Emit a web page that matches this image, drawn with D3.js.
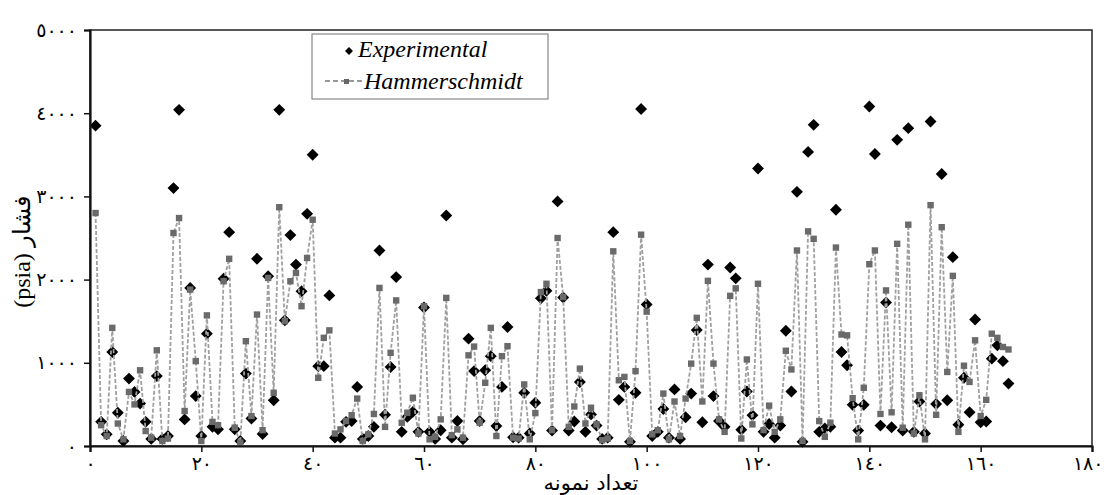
<!DOCTYPE html>
<html lang="fa">
<head>
    <meta charset="UTF-8">
    <title>Pressure chart</title>
    <script src="https://d3js.org/d3.v7.min.js"></script>
    <style>
        body { margin: 0; background: #fff; }
        text { font-family: "Liberation Serif", "DejaVu Serif", serif; }
        .fa { font-family: "DejaVu Sans", "Noto Sans", sans-serif; }
    </style>
</head>
<body>
    <div id="chart"></div>

    <script>
        // Measured pressures (psia), sample 1..165
        var experimental = [
            3850, 290, 140, 1130, 400, 60, 810, 650, 510, 290,
            85, 840, 85, 120, 3100, 4040, 320, 1900, 600, 120,
            1350, 230, 200, 2010, 2570, 200, 60, 870, 330, 2250,
            145, 2040, 550, 4040, 1510, 2535, 2180, 1860, 2790, 3500,
            960, 960, 1810, 100, 100, 290, 300, 710, 85, 120,
            230, 2350, 375, 950, 2030, 170, 350, 410, 170, 1665,
            170, 85, 190, 2770, 100, 300, 80, 1290, 900, 300,
            910, 1080, 240, 710, 1430, 105, 100, 640, 150, 520,
            1775, 1865, 185, 2940, 1785, 185, 295, 770, 170, 380,
            245, 85, 100, 2570, 555, 710, 50, 640, 4050, 1700,
            120, 170, 445, 100, 680, 85, 345, 630, 1395, 285,
            2180, 600, 300, 230, 2145, 2015, 195, 655, 370, 3335,
            170, 265, 100, 245, 1385, 655, 3055, 50, 3535, 3860,
            170, 210, 230, 2840, 1130, 970, 495, 185, 495, 4080,
            3510, 245, 1725, 225, 3680, 185, 3820, 170, 535, 150,
            3900, 505, 3270, 550, 2270, 255, 820, 405, 1520, 285,
            295, 1050, 1210, 1020, 750
        ];

        // Hammerschmidt correlation, same samples
        var hammerschmidt = [
            2800, 250, 120, 1420, 270, 80, 650, 500, 910, 180,
            100, 1150, 60, 90, 2560, 2740, 420, 1880, 1020, 60,
            1570, 290, 250, 1980, 2250, 220, 40, 1260, 360, 1580,
            190, 2020, 640, 2870, 1500, 1980, 2080, 1680, 2260, 2720,
            820, 1300, 1390, 150, 200, 300, 370, 570, 60, 140,
            385, 1900, 230, 1120, 1750, 280, 400, 580, 150, 1680,
            80, 110, 320, 1780, 130, 200, 100, 1090, 1195, 280,
            760, 1420, 120, 1080, 1200, 100, 90, 740, 80, 395,
            1850, 1950, 190, 2500, 1790, 230, 475, 930, 270, 460,
            260, 70, 90, 2340, 790, 830, 60, 900, 2540, 1615,
            140, 190, 630, 80, 535, 120, 570, 990, 1540, 535,
            1985, 990, 320, 170, 1805, 1895, 90, 1040, 260, 1950,
            190, 485, 170, 320, 1145, 920, 2350, 60, 2580, 2490,
            300, 110, 280, 2385, 1340, 1330, 575, 80, 700, 2185,
            2350, 385, 1870, 405, 2430, 220, 2660, 150, 610, 80,
            2895, 375, 2630, 890, 2045, 170, 965, 770, 1270, 360,
            555, 1350, 1300, 1190, 1160
        ];

        var samples = d3.range(1, experimental.length + 1);

        var xTicks = [0, 20, 40, 60, 80, 100, 120, 140, 160, 180];
        var yTicks = [0, 1000, 2000, 3000, 4000, 5000];

        var xTitle = "تعداد نمونه";
        var yTitle = "(psia) فشار";
        var seriesNames = ["Experimental", "Hammerschmidt"];

        // Arabic-Indic digits for tick labels
        function arabicDigits(n) {
            return String(n).replace(/[0-9]/g, function(c) { return "٠١٢٣٤٥٦٧٨٩"[+c]; });
        }

        var margin = {top: 30, right: 15, bottom: 49, left: 90};
        var width = 1107 - margin.left - margin.right;
        var height = 495 - margin.top - margin.bottom;

        var svg = d3.select("#chart")
            .append("svg")
            .attr("width", 1107)
            .attr("height", 495);

        var g = svg.append("g")
            .attr("transform", "translate(" + margin.left + "," + margin.top + ")");

        var x = d3.scaleLinear().domain([0, 180]).range([0, width]);
        var y = d3.scaleLinear().domain([0, 5000]).range([height, 0]);

        // plot frame
        g.append("rect")
            .attr("width", width)
            .attr("height", height)
            .attr("fill", "none")
            .attr("stroke", "#222")
            .attr("stroke-width", 1.5);

        // experimental diamonds
        var diamond = d3.symbol().type(d3.symbolDiamond2).size(90);
        g.selectAll(".exp")
            .data(samples)
            .enter().append("path")
            .attr("class", "exp")
            .attr("d", diamond)
            .attr("transform", function(d, i) { return "translate(" + x(d) + "," + y(experimental[i]) + ")"; })
            .attr("fill", "#000");

        // Hammerschmidt dashed line + squares
        var line = d3.line()
            .x(function(d) { return x(d); })
            .y(function(d, i) { return y(hammerschmidt[i]); });

        g.append("path")
            .datum(samples)
            .attr("d", line)
            .attr("fill", "none")
            .attr("stroke", "#a0a0a0")
            .attr("stroke-width", 1.8)
            .attr("stroke-dasharray", "4,2");

        g.selectAll(".ham")
            .data(samples)
            .enter().append("rect")
            .attr("class", "ham")
            .attr("x", function(d) { return x(d) - 3.2; })
            .attr("y", function(d, i) { return y(hammerschmidt[i]) - 3.2; })
            .attr("width", 6.4)
            .attr("height", 6.4)
            .attr("fill", "#6a6a6a");

        // axes
        var xAxis = g.append("g")
            .attr("transform", "translate(0," + height + ")")
            .call(d3.axisBottom(x).tickValues(xTicks).tickSize(6).tickPadding(5).tickFormat(arabicDigits));

        var yAxis = g.append("g")
            .call(d3.axisLeft(y).tickValues(yTicks).tickSize(6).tickPadding(7).tickFormat(arabicDigits));

        [xAxis, yAxis].forEach(function(a) {
            a.select(".domain").attr("stroke", "#111").attr("stroke-width", 2.2);
            a.selectAll(".tick line").attr("stroke", "#111").attr("stroke-width", 1.5);
            a.selectAll(".tick text")
                .attr("class", "fa")
                .attr("font-size", 19)
                .attr("fill", "#000");
        });

        // keep the last x label inside the page
        xAxis.selectAll(".tick text")
            .filter(function(d) { return d === 180; })
            .attr("text-anchor", "end")
            .attr("dx", 11);

        // axis titles
        svg.append("text")
            .attr("class", "fa")
            .attr("x", margin.left + width / 2)
            .attr("y", 490)
            .attr("text-anchor", "middle")
            .attr("font-size", 21)
            .text(xTitle);

        svg.append("text")
            .attr("transform", "translate(30," + 252 + ") rotate(-90)")
            .attr("text-anchor", "middle")
            .attr("font-size", 24)
            .text(yTitle);

        // legend
        var lg = svg.append("g").attr("transform", "translate(312,34)");
        lg.append("rect")
            .attr("width", 236)
            .attr("height", 65)
            .attr("fill", "#fff")
            .attr("stroke", "#888")
            .attr("stroke-width", 1.2);

        lg.append("path")
            .attr("d", d3.symbol().type(d3.symbolDiamond2).size(40))
            .attr("transform", "translate(37,17)")
            .attr("fill", "#000");
        lg.append("text")
            .attr("x", 46)
            .attr("y", 23)
            .attr("font-size", 24)
            .attr("font-style", "italic")
            .text(seriesNames[0]);

        lg.append("line")
            .attr("x1", 13).attr("x2", 51)
            .attr("y1", 47).attr("y2", 47)
            .attr("stroke", "#777")
            .attr("stroke-width", 1.5)
            .attr("stroke-dasharray", "5,3");
        lg.append("rect")
            .attr("x", 32).attr("y", 45)
            .attr("width", 5).attr("height", 5)
            .attr("fill", "#666");
        lg.append("text")
            .attr("x", 52)
            .attr("y", 55)
            .attr("font-size", 24)
            .attr("font-style", "italic")
            .text(seriesNames[1]);
    </script>
</body>
</html>
